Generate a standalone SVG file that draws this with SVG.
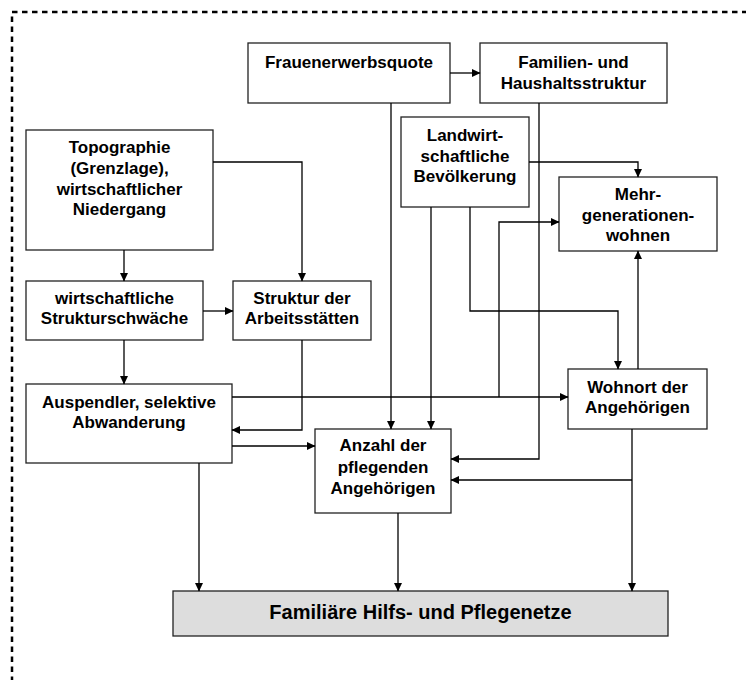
<svg xmlns="http://www.w3.org/2000/svg" width="746" height="680" viewBox="0 0 746 680">
<defs>
<marker id="ah" markerUnits="userSpaceOnUse" markerWidth="9" markerHeight="8" refX="8" refY="4" orient="auto">
<path d="M0,0 L8.5,4 L0,8 z" fill="#000"/>
</marker>
<style>
.box{fill:#fff;stroke:#222;stroke-width:1.3}
.gray{fill:#dddddd;stroke:#222;stroke-width:1.3}
.t{font-family:"Liberation Sans",Arial,sans-serif;font-weight:bold;font-size:17px;fill:#000;text-anchor:middle}
.tb{font-family:"Liberation Sans",Arial,sans-serif;font-weight:bold;font-size:20px;fill:#000;text-anchor:middle}
.c path{fill:none;stroke:#000;stroke-width:1.3;marker-end:url(#ah)}
</style>
</defs>
<rect x="0" y="0" width="746" height="680" fill="#fff"/>
<rect x="12" y="12" width="900" height="900" fill="none" stroke="#000" stroke-width="2.5" stroke-dasharray="5.5 4.5"/>

<g id="n-frauen"><rect class="box" x="248" y="43" width="202" height="60"/><text class="t" x="349" y="68">Frauenerwerbsquote</text></g>
<g id="n-familien"><rect class="box" x="480" y="43" width="187" height="60"/><text class="t" x="573.5" y="68">Familien- und</text><text class="t" x="573.5" y="89">Haushaltsstruktur</text></g>
<g id="n-topo"><rect class="box" x="26" y="130" width="187" height="120"/><text class="t" x="119.5" y="153">Topographie</text><text class="t" x="119.5" y="174">(Grenzlage),</text><text class="t" x="119.5" y="194.5">wirtschaftlicher</text><text class="t" x="119.5" y="215">Niedergang</text></g>
<g id="n-landwirt"><rect class="box" x="401" y="117" width="128" height="90"/><text class="t" x="465" y="141">Landwirt-</text><text class="t" x="465" y="161.5">schaftliche</text><text class="t" x="465" y="182">Bevölkerung</text></g>
<g id="n-mehrgen"><rect class="box" x="559" y="177" width="158" height="74"/><text class="t" x="638" y="200">Mehr-</text><text class="t" x="638" y="220.5">generationen-</text><text class="t" x="638" y="241">wohnen</text></g>
<g id="n-schwaeche"><rect class="box" x="26" y="281" width="177" height="59"/><text class="t" x="114.5" y="304">wirtschaftliche</text><text class="t" x="114.5" y="324">Strukturschwäche</text></g>
<g id="n-arbeit"><rect class="box" x="233" y="281" width="138" height="59"/><text class="t" x="302" y="304">Struktur der</text><text class="t" x="302" y="324">Arbeitsstätten</text></g>
<g id="n-auspendler"><rect class="box" x="26" y="384" width="206" height="79"/><text class="t" x="129" y="408">Auspendler, selektive</text><text class="t" x="129" y="428">Abwanderung</text></g>
<g id="n-wohnort"><rect class="box" x="568" y="369" width="139" height="60"/><text class="t" x="637.5" y="393">Wohnort der</text><text class="t" x="637.5" y="413">Angehörigen</text></g>
<g id="n-anzahl"><rect class="box" x="315" y="429" width="136" height="84"/><text class="t" x="383" y="451">Anzahl der</text><text class="t" x="383" y="473">pflegenden</text><text class="t" x="383" y="494">Angehörigen</text></g>
<g id="n-netze"><rect class="gray" x="173" y="591" width="495" height="45"/><text class="tb" x="420.5" y="619">Familiäre Hilfs- und Pflegenetze</text></g>

<g id="connectors" class="c">
<path d="M450,73 H480"/>
<path d="M391,103 V429"/>
<path d="M539,103 V459 H451"/>
<path d="M124,250 V281"/>
<path d="M213,162 H302 V281"/>
<path d="M529,162 H638 V177"/>
<path d="M431,207 V429"/>
<path d="M470,207 V311 H618 V369"/>
<path d="M203,311 H233"/>
<path d="M124,340 V384"/>
<path d="M302,340 V430 H232"/>
<path d="M232,397 H568"/>
<path d="M499,397 V222 H559"/>
<path d="M232,446 H315"/>
<path d="M199,463 V591"/>
<path d="M638,369 V251"/>
<path d="M632,429 V591"/>
<path d="M632,480 H451"/>
<path d="M398,513 V591"/>
</g>
</svg>
